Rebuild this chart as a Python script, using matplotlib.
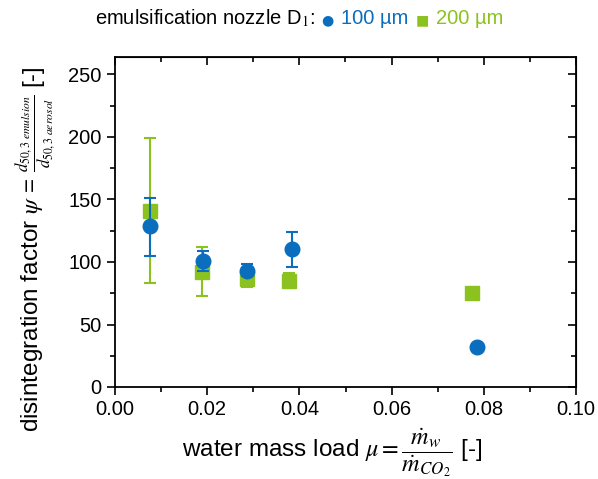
import matplotlib
matplotlib.use("Agg")
import matplotlib.pyplot as plt
from matplotlib.ticker import MultipleLocator
from matplotlib.offsetbox import TextArea, HPacker, AnchoredOffsetbox

plt.rcParams['font.family'] = ['Liberation Sans', 'DejaVu Sans']
plt.rcParams['mathtext.fontset'] = 'stix'

# data: nozzle 100 µm (blue circles)
x100 = [0.0077, 0.0191, 0.0286, 0.0383, 0.0786]
y100 = [128.5, 100.5, 93.2, 110.3, 31.8]
lo100 = [105, 93, 88.7, 96.4, 31.8]
hi100 = [151, 109, 98.6, 123.6, 31.8]

# data: nozzle 200 µm (green squares)
x200 = [0.0077, 0.0188, 0.0286, 0.0378, 0.0774]
y200 = [141, 92.4, 86.8, 85.2, 75.6]
lo200 = [83.6, 73, 79.9, 79, 75.6]
hi200 = [199, 111.6, 93, 91.6, 75.6]

blue = '#0a6dbd'
green = '#8cc21f'

W, H = 598, 479
fig = plt.figure(figsize=(W/100, H/100), dpi=100)
ax = fig.add_axes([115/W, 1-387/H, (576-115)/W, (387-57)/H])

def errs(y, lo, hi):
    return [[a - b for a, b in zip(y, lo)], [b - a for a, b in zip(y, hi)]]

ax.errorbar(x200, y200, yerr=errs(y200, lo200, hi200), fmt='s', color=green,
            ms=9.5, capsize=4, elinewidth=1.5, capthick=1.5, zorder=3)
ax.errorbar(x100, y100, yerr=errs(y100, lo100, hi100), fmt='o', color=blue,
            ms=10.5, capsize=4, elinewidth=1.5, capthick=1.5, zorder=4)

ax.set_xlim(0, 0.10)
ax.set_ylim(0, 264)
ax.xaxis.set_major_locator(MultipleLocator(0.02))
ax.xaxis.set_minor_locator(MultipleLocator(0.01))
ax.yaxis.set_major_locator(MultipleLocator(50))
ax.yaxis.set_minor_locator(MultipleLocator(25))
ax.xaxis.set_major_formatter(matplotlib.ticker.FormatStrFormatter('%.2f'))
ax.tick_params(which='both', direction='out', labelsize=14.5, width=1.2)
ax.tick_params(which='major', length=6)
ax.tick_params(which='minor', length=3.5)
for s in ax.spines.values():
    s.set_linewidth(1.3)

# mirrored inward ticks on top/right
axt = ax.secondary_xaxis('top')
axt.xaxis.set_major_locator(MultipleLocator(0.02))
axt.xaxis.set_minor_locator(MultipleLocator(0.01))
axt.tick_params(which='both', direction='in', labeltop=False, width=1.2)
axt.tick_params(which='major', length=6)
axt.tick_params(which='minor', length=3.5)
axr = ax.secondary_yaxis('right')
axr.yaxis.set_major_locator(MultipleLocator(50))
axr.yaxis.set_minor_locator(MultipleLocator(25))
axr.tick_params(which='both', direction='in', labelright=False, width=1.2)
axr.tick_params(which='major', length=6)
axr.tick_params(which='minor', length=3.5)

ax.set_xlabel(r'water mass load $\mu = \dfrac{\dot{m}_w}{\dot{m}_{CO_2}}$ [-]', fontsize=17.5)
ax.xaxis.set_label_coords(0.471, -0.2)
ax.xaxis.label.set_va('center')

# y label built from pieces (fraction smaller than the text)
fig.canvas.draw()
r = fig.canvas.get_renderer()
t1 = fig.text(32/W, 1-432/H, r'disintegration factor $\psi$ =', rotation=90,
              ha='center', va='bottom', fontsize=17.5)
e1 = t1.get_window_extent(r)
t2 = fig.text(35/W, (e1.y1 + 6)/H, r'$\dfrac{d_{50,3\ emulsion}}{d_{50,3\ aerosol}}$',
              rotation=90, ha='center', va='bottom', fontsize=12)
e2 = t2.get_window_extent(r)
t3 = fig.text(32/W, (e2.y1 + 8)/H, '[-]', rotation=90, ha='center', va='bottom',
              fontsize=17.5)

# title with coloured legend parts
fs = 14.5
parts = [
    TextArea(r'emulsification nozzle D$_1$:', textprops=dict(color='black', fontsize=fs)),
    TextArea('●', textprops=dict(color=blue, fontsize=fs*0.7, family='DejaVu Sans')),
    TextArea('100 µm', textprops=dict(color=blue, fontsize=fs)),
    TextArea('■', textprops=dict(color=green, fontsize=fs*0.7, family='DejaVu Sans')),
    TextArea('200 µm', textprops=dict(color=green, fontsize=fs)),
]
box = HPacker(children=parts, align='baseline', pad=0, sep=5)
anch = AnchoredOffsetbox(loc='center', child=box, frameon=False,
                         bbox_to_anchor=(0.5, 1-18/H), bbox_transform=fig.transFigure,
                         borderpad=0, pad=0)
fig.add_artist(anch)

fig.savefig('out.png', dpi=100)
